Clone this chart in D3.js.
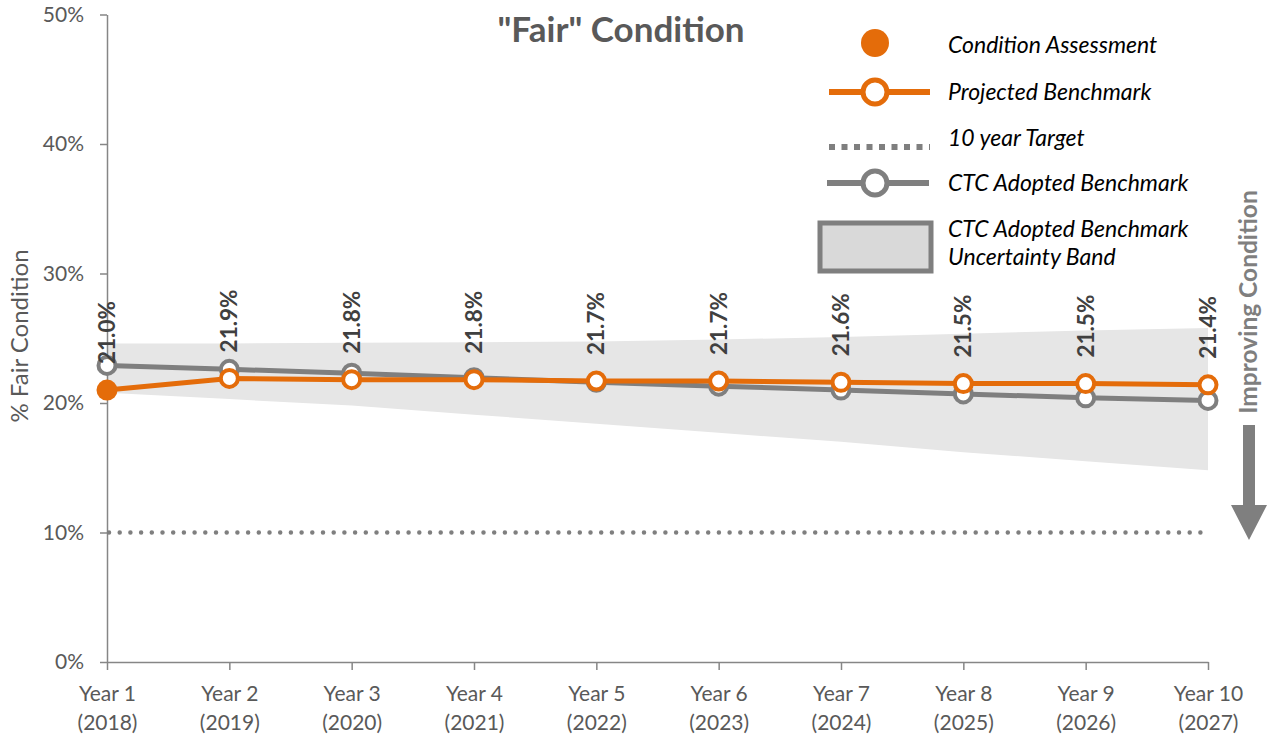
<!DOCTYPE html>
<html>
<head>
<meta charset="utf-8">
<script src="https://cdn.jsdelivr.net/npm/d3@7"></script>
<style>
  html, body { margin: 0; padding: 0; background: #fff; }
  svg { display: block; font-family: Lato, "Open Sans", sans-serif; }
</style>
</head>
<body>
<svg id="chart" width="1270" height="740"></svg>
<script>
// ---- data ----
const years = ["Year 1","Year 2","Year 3","Year 4","Year 5","Year 6","Year 7","Year 8","Year 9","Year 10"];
const yearsSub = ["(2018)","(2019)","(2020)","(2021)","(2022)","(2023)","(2024)","(2025)","(2026)","(2027)"];
const assessment = [21.0, null, null, null, null, null, null, null, null, null];
const projected = [21.0, 21.9, 21.8, 21.8, 21.7, 21.7, 21.6, 21.5, 21.5, 21.4];
const ctcAdopted = [22.9, 22.6, 22.3, 21.95, 21.6, 21.3, 21.0, 20.7, 20.4, 20.2];
const bandUpper = [24.6, 24.6, 24.65, 24.7, 24.75, 24.9, 25.1, 25.35, 25.6, 25.8];
const bandLower = [20.8, 20.3, 19.8, 19.1, 18.4, 17.7, 17.0, 16.2, 15.5, 14.8];
const targetValue = 10;
const yTicks = [0, 10, 20, 30, 40, 50];
const legendItems = ["Condition Assessment","Projected Benchmark","10 year Target","CTC Adopted Benchmark","CTC Adopted Benchmark|Uncertainty Band"];

const ORANGE = "#E46C0A", GRAY = "#7F7F7F", AXIS = "#868686", TXT = "#595959";

const svg = d3.select("#chart");
const x = d3.scalePoint().domain(years).range([107, 1208]);
const y = d3.scaleLinear().domain([0, 50]).range([662, 14.5]);

// band
const band = years.map((yr, i) => ({yr, lo: bandLower[i], hi: bandUpper[i]}));
svg.append("path")
  .attr("d", d3.area().x(d => x(d.yr)).y0(d => y(d.lo)).y1(d => y(d.hi))(band))
  .attr("fill", "#E6E6E6");

// axes
const yAxis = svg.append("g").attr("transform", `translate(${x(years[0])},0)`)
  .call(d3.axisLeft(y).tickValues(yTicks).tickFormat(d => d + "%").tickSize(7).tickSizeOuter(0).tickPadding(16));
yAxis.select(".domain").attr("stroke", AXIS).attr("stroke-width", 1.5);
yAxis.selectAll(".tick line").attr("stroke", AXIS).attr("stroke-width", 1.5);
yAxis.selectAll(".tick text").attr("fill", TXT).attr("font-size", 21).attr("font-family", "Lato, sans-serif");

const xAxis = svg.append("g").attr("transform", `translate(0,${y(0)})`)
  .call(d3.axisBottom(x).tickSize(8).tickSizeOuter(0).tickFormat(""));
xAxis.select(".domain").attr("stroke", AXIS).attr("stroke-width", 1.5);
xAxis.selectAll(".tick line").attr("stroke", AXIS).attr("stroke-width", 1.5);
xAxis.selectAll(".tick").each(function(d, i) {
  const t = d3.select(this).append("text").attr("fill", TXT).attr("font-size", 21)
    .attr("text-anchor", "middle").attr("font-family", "Lato, sans-serif");
  t.append("tspan").attr("x", 0).attr("y", 39).text(d);
  t.append("tspan").attr("x", 0).attr("y", 68).text(yearsSub[i]);
});

// target line
svg.append("line")
  .attr("x1", x(years[0]) + 2).attr("x2", x(years[years.length - 1]))
  .attr("y1", y(targetValue)).attr("y2", y(targetValue))
  .attr("stroke", GRAY).attr("stroke-width", 4.5)
  .attr("stroke-linecap", "round").attr("stroke-dasharray", "0,10.7");

// CTC adopted line
const line = d3.line().x(d => x(d.yr)).y(d => y(d.v));
const ctcData = years.map((yr, i) => ({yr, v: ctcAdopted[i]}));
svg.append("path").attr("d", line(ctcData)).attr("fill", "none")
  .attr("stroke", GRAY).attr("stroke-width", 5);
svg.selectAll(".ctcm").data(ctcData).enter().append("circle")
  .attr("cx", d => x(d.yr)).attr("cy", d => y(d.v)).attr("r", 8.5)
  .attr("fill", "#fff").attr("stroke", GRAY).attr("stroke-width", 4);

// projected line
const projData = years.map((yr, i) => ({yr, v: projected[i]}));
svg.append("path").attr("d", line(projData)).attr("fill", "none")
  .attr("stroke", ORANGE).attr("stroke-width", 5);
svg.selectAll(".pm").data(projData.slice(1)).enter().append("circle")
  .attr("cx", d => x(d.yr)).attr("cy", d => y(d.v)).attr("r", 8.5)
  .attr("fill", "#fff").attr("stroke", ORANGE).attr("stroke-width", 4);

// assessment
const assessData = years.map((yr, i) => ({yr, v: assessment[i]})).filter(d => d.v != null);
svg.selectAll(".am").data(assessData).enter().append("circle")
  .attr("cx", d => x(d.yr)).attr("cy", d => y(d.v)).attr("r", 10.5)
  .attr("fill", ORANGE);

// data labels
svg.selectAll(".lbl").data(projData).enter().append("text")
  .attr("transform", d => `translate(${x(d.yr) + 8},${y(d.v) - 26}) rotate(-90)`)
  .attr("font-size", 22.5).attr("font-weight", "bold").attr("fill", "#404040")
  .text(d => d3.format(".1f")(d.v) + "%");

// title
svg.append("text").attr("x", 621).attr("y", 42).attr("text-anchor", "middle")
  .attr("font-size", 35).attr("font-weight", "bold").attr("fill", TXT)
  .text('"Fair" Condition');

// y axis title
svg.append("text").attr("transform", "translate(28,336) rotate(-90)")
  .attr("text-anchor", "middle").attr("font-size", 24).attr("fill", TXT)
  .text("% Fair Condition");

// improving condition
svg.append("text").attr("transform", "translate(1257,302) rotate(-90)")
  .attr("text-anchor", "middle").attr("font-size", 24.5).attr("font-weight", "bold").attr("fill", GRAY)
  .text("Improving Condition");
svg.append("path")
  .attr("d", "M1243,425 L1255,425 L1255,505 L1267,505 L1249,540 L1231,505 L1243,505 Z")
  .attr("fill", GRAY);

// legend
const lg = svg.append("g");
const rowY = [45, 92, 138, 183, 229];
const symX = 875, textX = 948;
lg.append("circle").attr("cx", symX).attr("cy", rowY[0] - 2).attr("r", 14).attr("fill", ORANGE);
lg.append("line").attr("x1", 829).attr("x2", 930).attr("y1", rowY[1]).attr("y2", rowY[1])
  .attr("stroke", ORANGE).attr("stroke-width", 6);
lg.append("circle").attr("cx", symX).attr("cy", rowY[1]).attr("r", 12)
  .attr("fill", "#fff").attr("stroke", ORANGE).attr("stroke-width", 5);
lg.append("line").attr("x1", 829).attr("x2", 930).attr("y1", rowY[2] + 9).attr("y2", rowY[2] + 9)
  .attr("stroke", GRAY).attr("stroke-width", 6).attr("stroke-dasharray", "6,6.5");
lg.append("line").attr("x1", 827).attr("x2", 929).attr("y1", rowY[3]).attr("y2", rowY[3])
  .attr("stroke", GRAY).attr("stroke-width", 6);
lg.append("circle").attr("cx", symX).attr("cy", rowY[3]).attr("r", 12)
  .attr("fill", "#fff").attr("stroke", GRAY).attr("stroke-width", 5);
lg.append("rect").attr("x", 820).attr("y", 223).attr("width", 111).attr("height", 48)
  .attr("fill", "#D9D9D9").attr("stroke", GRAY).attr("stroke-width", 5);

legendItems.forEach((s, i) => {
  const parts = s.split("|");
  const t = lg.append("text").attr("font-size", 23).attr("font-style", "italic").attr("fill", "#000");
  parts.forEach((p, j) => {
    t.append("tspan").attr("x", textX).attr("y", rowY[i] + 8 + j * 28).text(p);
  });
});
</script>
</body>
</html>
